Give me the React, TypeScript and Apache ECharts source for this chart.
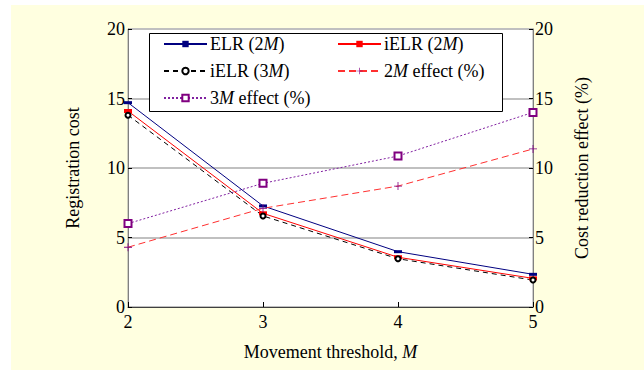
import React, { useEffect, useRef } from "react";
import * as echarts from "echarts";

const thresholds = [2, 3, 4, 5];
const elr2M = [14.7, 7.27, 3.98, 2.35];
const ielr2M = [14.1, 6.74, 3.58, 2.06];
const ielr3M = [13.8, 6.55, 3.47, 1.94];
const effect2M = [4.3, 7.1, 8.7, 11.37];
const effect3M = [6.0, 8.9, 10.86, 14.0];
const yTicks = [0, 5, 10, 15, 20];

const FONT = "'Liberation Serif', 'Times New Roman', serif";
const FS = 18;

const pairs = (ys: number[]) => thresholds.map((x, i) => [x, ys[i]]);
const fmtName = (name: string) => name.replace("M", "{i|M}");

export default function App() {
  const ref = useRef<HTMLDivElement>(null);
  useEffect(() => {
    document.body.style.margin = "0";
    const chart = echarts.init(ref.current!, null, { renderer: "svg" });
    const legendCommon = {
      orient: "vertical" as const,
      top: 35,
      itemWidth: 43,
      itemHeight: 8,
      itemGap: 9,
      padding: 0,
      formatter: fmtName,
      textStyle: {
        fontFamily: FONT,
        fontSize: FS,
        color: "#000",
        padding: [0, 0, 0, -2],
        rich: { i: { fontFamily: FONT, fontSize: FS, fontStyle: "italic", color: "#000" } },
      },
      selectedMode: false,
    };
    chart.setOption({
      animation: false,
      textStyle: { fontFamily: FONT },
      grid: {
        left: 128,
        right: 111,
        top: 29,
        bottom: 63,
        show: true,
        backgroundColor: "#fff",
        borderColor: "#a0a0a0",
        borderWidth: 1,
      },
      graphic: {
        elements: [
          {
            type: "rect",
            z: 3,
            shape: { x: 149.5, y: 33.5, width: 353, height: 78 },
            style: { fill: "#fff", stroke: "#000", lineWidth: 1 },
          },
        ],
      },
      legend: [
        { ...legendCommon, left: 163, data: ["ELR (2M)", "iELR (3M)", "3M effect (%)"] },
        { ...legendCommon, left: 337, data: ["iELR (2M)", "2M effect (%)"] },
      ],
      xAxis: {
        type: "value",
        min: 2,
        max: 5,
        interval: 1,
        name: "Movement threshold, {i|M}",
        nameLocation: "middle",
        nameGap: 36,
        nameTextStyle: {
          fontFamily: FONT,
          fontSize: FS,
          color: "#000",
          rich: { i: { fontFamily: FONT, fontSize: FS, fontStyle: "italic", color: "#000" } },
        },
        axisLine: { show: true, lineStyle: { color: "#404040", width: 1 } },
        axisTick: { show: true, inside: true, length: 5, lineStyle: { color: "#000" } },
        axisLabel: { fontFamily: FONT, fontSize: FS, color: "#000", margin: 6 },
        splitLine: { show: false },
      },
      yAxis: [
        {
          type: "value",
          min: 0,
          max: 20,
          interval: 5,
          name: "Registration cost",
          nameLocation: "middle",
          nameGap: 46,
          nameTextStyle: { fontFamily: FONT, fontSize: FS, color: "#000" },
          axisLine: { show: true, lineStyle: { color: "#808080", width: 1 } },
          axisTick: { show: true, inside: true, length: 4, lineStyle: { color: "#000" } },
          axisLabel: {
            fontFamily: FONT,
            fontSize: FS,
            color: "#000",
            margin: 3,
            formatter: (v: number) => (yTicks.includes(v) ? String(v) : ""),
          },
          splitLine: { show: true, lineStyle: { color: "#c0c0c0", width: 2 } },
        },
        {
          type: "value",
          min: 0,
          max: 20,
          interval: 5,
          position: "right",
          name: "Cost reduction effect (%)",
          nameLocation: "middle",
          nameGap: 40,
          nameRotate: 90,
          nameTextStyle: { fontFamily: FONT, fontSize: FS, color: "#000" },
          axisLine: { show: true, lineStyle: { color: "#808080", width: 1 } },
          axisTick: { show: true, inside: true, length: 4, lineStyle: { color: "#000" } },
          axisLabel: {
            fontFamily: FONT,
            fontSize: FS,
            color: "#000",
            margin: 2,
            formatter: (v: number) => (yTicks.includes(v) ? String(v) : ""),
          },
          splitLine: { show: false },
        },
      ],
      series: [
        {
          name: "ELR (2M)",
          type: "line",
          data: pairs(elr2M),
          symbol: "rect",
          symbolSize: [8, 3],
          itemStyle: { color: "#000080" },
          lineStyle: { color: "#000080", width: 1 },
        },
        {
          name: "iELR (2M)",
          type: "line",
          data: pairs(ielr2M),
          symbol: "rect",
          symbolSize: [8, 4],
          itemStyle: { color: "#ff0000" },
          lineStyle: { color: "#ff0000", width: 1 },
        },
        {
          name: "iELR (3M)",
          type: "line",
          data: pairs(ielr3M),
          symbol: "emptyCircle",
          symbolSize: 5,
          itemStyle: { color: "#000", borderColor: "#000", borderWidth: 1 },
          lineStyle: { color: "#000", width: 1, type: [5, 4] },
        },
        {
          name: "2M effect (%)",
          type: "line",
          yAxisIndex: 1,
          data: pairs(effect2M),
          symbol: "path://M4.5,0H5.5V4.5H10V5.5H5.5V10H4.5V5.5H0V4.5H4.5Z",
          symbolSize: 8,
          itemStyle: { color: "#800080" },
          lineStyle: { color: "#ff3030", width: 1, type: [7, 4] },
        },
        {
          name: "3M effect (%)",
          type: "line",
          yAxisIndex: 1,
          data: pairs(effect3M),
          symbol: "emptyRect",
          symbolSize: 7,
          itemStyle: { color: "#800080", borderColor: "#800080", borderWidth: 1 },
          lineStyle: { color: "#8020a0", width: 1, type: [2, 2] },
        },
      ],
    });
    return () => chart.dispose();
  }, []);
  return (
    <div style={{ position: "relative", width: 644, height: 370, background: "#fff" }}>
      <div
        style={{ position: "absolute", left: 11, top: 5, right: 0, bottom: 0, background: "#ffffe0" }}
      />
      <div ref={ref} style={{ position: "absolute", left: 0, top: 0, width: 644, height: 370 }} />
    </div>
  );
}
